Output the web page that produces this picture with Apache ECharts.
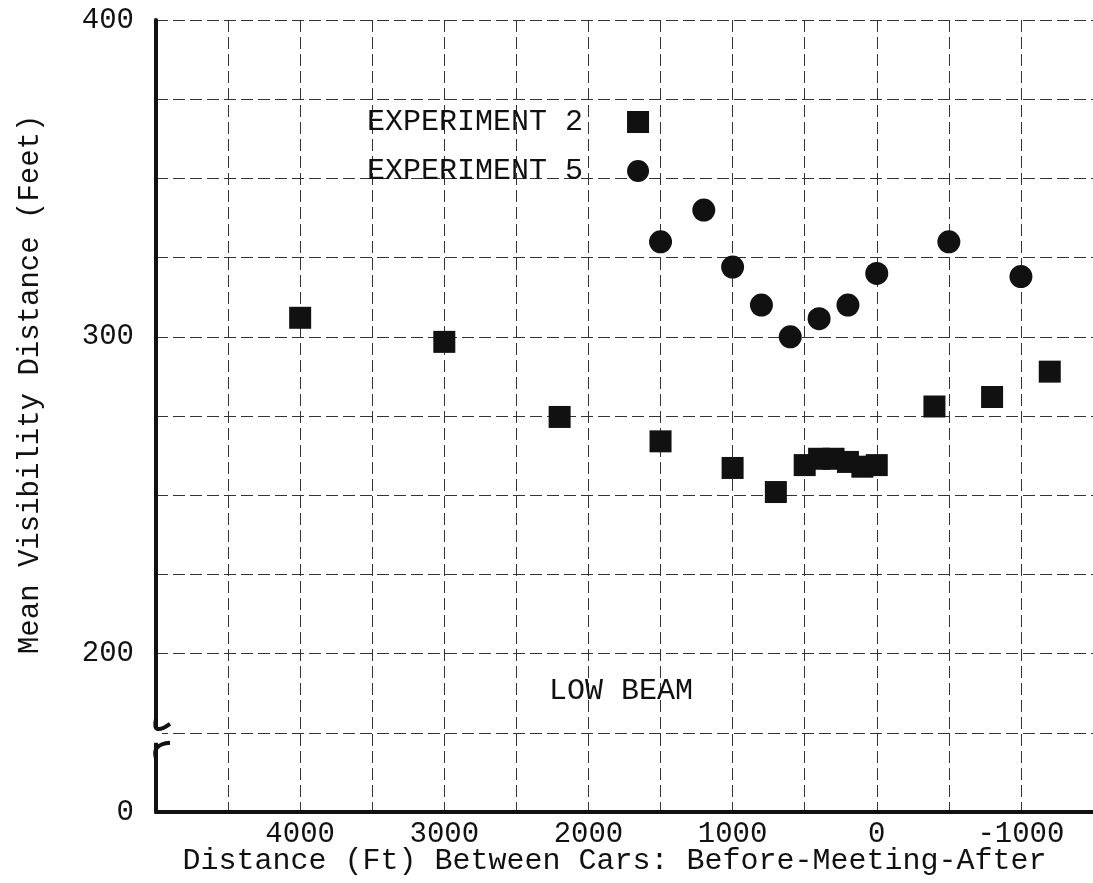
<!DOCTYPE html>
<html>
<head>
<meta charset="utf-8">
<script src="https://cdn.jsdelivr.net/npm/echarts@6/dist/echarts.min.js"></script>
<style>
  html, body { margin: 0; padding: 0; background: #ffffff; }
  #chart { width: 1093px; height: 883px; }
</style>
</head>
<body>
<div id="chart"></div>
<script>
// ---- data ----
const exp2X = [4000, 3000, 2200, 1500, 1000, 700, 500, 400, 300, 200, 100, 0, -400, -800, -1200];
const exp2Y = [306, 298.4, 274.7, 267, 258.6, 251, 259.5, 261.5, 261.5, 260.5, 259, 259.5, 278, 281, 289];
const exp5X = [1500, 1200, 1000, 800, 600, 400, 200, 0, -500, -1000];
const exp5Y = [330, 340, 322, 310, 300, 305.7, 310, 320, 330, 319];
const xTickLabels = [4000, 3000, 2000, 1000, 0, -1000];
const yTickLabels = {150: '0', 200: '200', 300: '300', 400: '400'};
const seriesNames = ['EXPERIMENT 2', 'EXPERIMENT 5'];
const xTitle = 'Distance (Ft) Between Cars: Before-Meeting-After';
const yTitle = 'Mean Visibility Distance (Feet)';
const noteText = 'LOW BEAM';

const FONT = '"Liberation Mono", "DejaVu Sans Mono", monospace';
const INK = '#111111';

const chart = echarts.init(document.getElementById('chart'), null, {renderer: 'canvas'});

function pairs(xs, ys) { return xs.map((x, i) => [x, ys[i]]); }

const gridLine = {show: true, lineStyle: {color: '#333333', width: 1, type: [12, 5]}};

chart.setOption({
  animation: false,
  backgroundColor: '#ffffff',
  grid: {left: 156, right: 0, top: 20, bottom: 71, containLabel: false, outerBoundsMode: 'none'},
  legend: {
    orient: 'vertical',
    left: 367,
    top: 107,
    padding: 0,
    align: 'right',
    itemGap: 19,
    itemWidth: 22,
    itemHeight: 22,
    textStyle: {fontFamily: FONT, fontSize: 30, color: INK, padding: [0, 39, 0, 0]},
    data: [
      {name: seriesNames[0], icon: 'rect'},
      {name: seriesNames[1], icon: 'circle'}
    ]
  },
  xAxis: {
    type: 'value',
    inverse: true,
    min: -1500,
    max: 5000,
    interval: 500,
    name: xTitle,
    nameLocation: 'middle',
    nameGap: 34,
    nameMoveOverlap: false,
    nameTextStyle: {fontFamily: FONT, fontSize: 30, color: INK, padding: [0, 20, 0, 0]},
    axisLine: {show: true, onZero: false, lineStyle: {color: INK, width: 4}},
    axisTick: {show: false},
    axisLabel: {
      fontFamily: FONT, fontSize: 29, color: INK, margin: 8,
      showMinLabel: false, showMaxLabel: false,
      formatter: v => (xTickLabels.indexOf(v) >= 0 ? String(v) : '')
    },
    splitLine: gridLine
  },
  yAxis: {
    type: 'value',
    min: 150,
    max: 400,
    interval: 25,
    axisLine: {show: true, onZero: false, lineStyle: {color: INK, width: 4}},
    axisTick: {show: false},
    axisLabel: {
      fontFamily: FONT, fontSize: 29, color: INK, margin: 22,
      formatter: v => (yTickLabels[v] !== undefined ? yTickLabels[v] : '')
    },
    splitLine: gridLine
  },
  series: [
    {
      name: seriesNames[0],
      type: 'scatter',
      symbol: 'rect',
      symbolSize: 22,
      itemStyle: {color: INK, opacity: 1},
      data: pairs(exp2X, exp2Y),
      z: 5
    },
    {
      name: seriesNames[1],
      type: 'scatter',
      symbol: 'circle',
      symbolSize: 23,
      itemStyle: {color: INK, opacity: 1},
      data: pairs(exp5X, exp5Y),
      z: 5
    }
  ]
});

// Decorations placed through the library's coordinate system
const axisPt = chart.convertToPixel({gridIndex: 0}, [5000, 175]);
const ax = axisPt[0];
const by = axisPt[1];
const notePt = chart.convertToPixel({gridIndex: 0}, [1775, 188.3]);
const yTitlePt = chart.convertToPixel({gridIndex: 0}, [5000, 285]);

chart.setOption({
  graphic: [
    // axis break: white gap and curly hooks
    {type: 'rect', z: 100, shape: {x: ax - 6, y: by - 5, width: 12, height: 15}, style: {fill: '#ffffff'}},
    {type: 'polyline', z: 101, shape: {points: [[ax, by - 14], [ax + 1, by - 4], [ax + 14, by - 9]], smooth: 0.5},
     style: {stroke: INK, lineWidth: 4, fill: null}},
    {type: 'polyline', z: 101, shape: {points: [[ax + 14, by + 10], [ax + 1, by + 15], [ax, by + 26]], smooth: 0.5},
     style: {stroke: INK, lineWidth: 4, fill: null}},
    // LOW BEAM note
    {type: 'text', z: 50, x: notePt[0], y: notePt[1],
     style: {text: noteText, font: '30px ' + FONT, fill: INK, textAlign: 'center', textVerticalAlign: 'middle'}},
    // y axis title
    {type: 'text', z: 50, x: 30, y: yTitlePt[1], rotation: Math.PI / 2,
     style: {text: yTitle, font: '29px ' + FONT, fill: INK, textAlign: 'center', textVerticalAlign: 'middle'}}
  ]
});
</script>
</body>
</html>
